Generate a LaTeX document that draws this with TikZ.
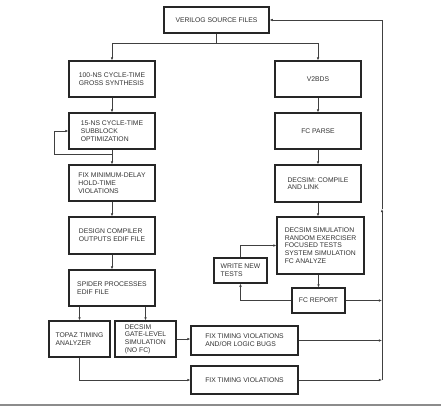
\documentclass[tikz,border=0pt]{standalone}
\usepackage{fontspec}
\setmainfont{Liberation Sans}
\usetikzlibrary{arrows.meta,calc}
\begin{document}
\begin{tikzpicture}[x=1pt,y=-1pt,
  box/.style={draw=black!85,line width=1.1pt,inner sep=0pt,align=left,
    font=\fontsize{6.8}{7.7}\selectfont,text=black!80},
  conn/.style={draw=black!75,line width=0.6pt},
  arr/.style={conn,-{Latex[length=3.2pt,width=2.6pt]}}]
\useasboundingbox (0,0) rectangle (441,407);
\fill[white] (0,0) rectangle (441,407);
% boxes
\node[box,minimum width=105pt,minimum height=26pt] (verilog) at (216.5,20) {VERILOG SOURCE FILES};
\node[box,minimum width=86pt,minimum height=36pt] (n100) at (112,79) {100-NS CYCLE-TIME\\GROSS SYNTHESIS};
\node[box,minimum width=86pt,minimum height=36pt] (v2bds) at (318,79) {V2BDS};
\node[box,minimum width=86pt,minimum height=36pt] (n15) at (112,131) {15-NS CYCLE-TIME\\SUBBLOCK\\OPTIMIZATION};
\node[box,minimum width=86pt,minimum height=36pt] (fcparse) at (318,131) {FC PARSE};
\node[box,minimum width=86pt,minimum height=36pt] (fixmin) at (112,183) {FIX MINIMUM-DELAY\\HOLD-TIME\\VIOLATIONS};
\node[box,minimum width=86pt,minimum height=37pt] (dcomp) at (318,183.5) {DECSIM: COMPILE\\AND LINK};
\node[box,minimum width=86pt,minimum height=37pt] (design) at (112,235.5) {DESIGN COMPILER\\OUTPUTS EDIF FILE};
\node[box,minimum width=87pt,minimum height=57pt] (dsim) at (320.5,245.5) {DECSIM SIMULATION\\RANDOM EXERCISER\\FOCUSED TESTS\\SYSTEM SIMULATION\\FC ANALYZE};
\node[box,minimum width=86pt,minimum height=36pt] (spider) at (112,288) {SPIDER PROCESSES\\EDIF FILE};
\node[box,minimum width=53pt,minimum height=25pt] (writenew) at (240.5,270.5) {WRITE NEW\\TESTS};
\node[box,minimum width=53pt,minimum height=25pt] (fcreport) at (318.5,300.5) {FC REPORT};
\node[box,minimum width=61pt,minimum height=36pt] (topaz) at (79.5,339) {TOPAZ TIMING\\ANALYZER};
\node[box,minimum width=61pt,minimum height=36pt] (gate) at (145.5,339) {DECSIM\\GATE-LEVEL\\SIMULATION\\(NO FC)};
\node[box,minimum width=107pt,minimum height=29pt] (fixlogic) at (244.5,340.5) {FIX TIMING VIOLATIONS\\AND/OR LOGIC BUGS};
\node[box,minimum width=107pt,minimum height=28pt] (fixtiming) at (244.5,380) {FIX TIMING VIOLATIONS};
% coordinates
\coordinate (split) at (216.5,43);
\coordinate (lp) at (112,154);
\coordinate (rbot) at (382,380);
\coordinate (rmid) at (382,209);
\coordinate (rtop) at (382,20);
% connectors
\draw[conn] (verilog.south) -- (split);
\draw[arr] (split) -| (n100.north);
\draw[arr] (split) -| (v2bds.north);
\draw[arr] (n100.south) -- (n15.north);
\draw[arr] (n15.south) -- (fixmin.north);
\draw[arr] (lp) -- ++(-58,0) |- (n15.west);
\draw[arr] (fixmin.south) -- (design.north);
\draw[arr] (design.south) -- (spider.north);
\draw[arr] (spider.south -| topaz.north) -- (topaz.north);
\draw[arr] (spider.south -| gate.north) -- (gate.north);
\draw[arr] (gate.east) -- (gate.east -| fixlogic.west);
\draw[arr] (topaz.south) |- (fixtiming.west);
\draw[arr] (fixlogic.east) -- (fixlogic.east -| rbot);
\draw[arr] (fixtiming.east) -- (rbot);
\draw[arr] (v2bds.south) -- (fcparse.north);
\draw[arr] (fcparse.south) -- (dcomp.north);
\draw[arr] (dcomp.south) -- (dcomp.south |- dsim.north);
\draw[arr] (dsim.south -| fcreport.north) -- (fcreport.north);
\draw[arr] (fcreport.west) -| (writenew.south);
\draw[arr] (writenew.north) |- (dsim.west);
\draw[arr] (fcreport.east) -- (fcreport.east -| rbot);
\draw[arr] (rbot) -- (rmid);
\draw[arr] (rmid) -- (rtop) -- (verilog.east);
% bottom rule
\draw[black!45,line width=1.6pt] (0,405) -- (441,405);
\end{tikzpicture}
\end{document}
